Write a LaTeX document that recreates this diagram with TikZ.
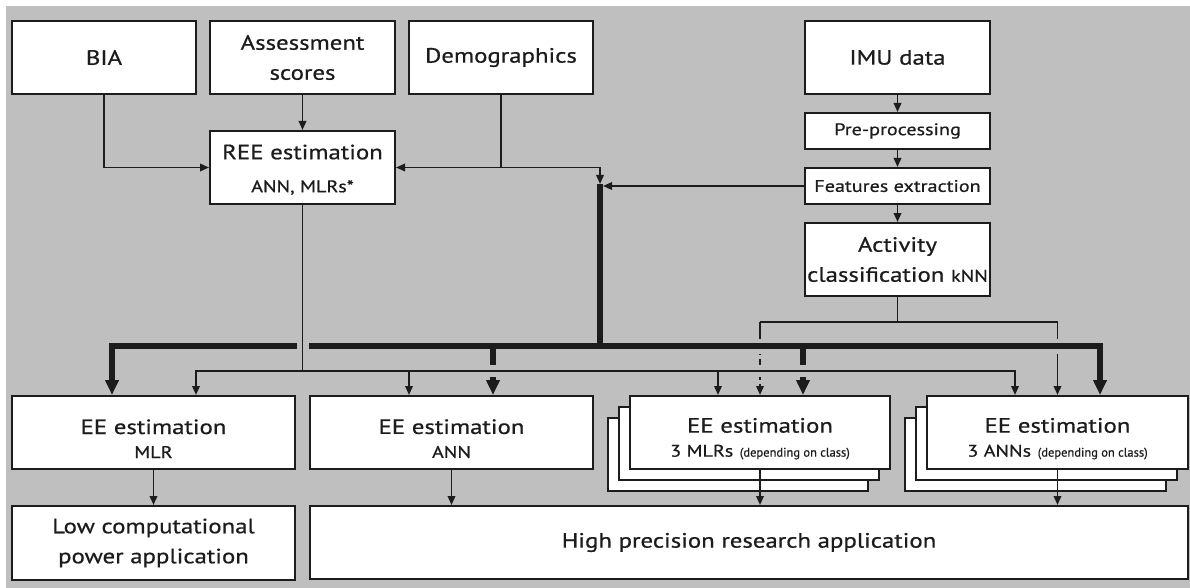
\documentclass[tikz,border=0pt]{standalone}
\usepackage{fontspec}
\setmainfont{PT Sans}[FakeStretch=1.2, FakeBold=0.6]
\newfontfamily\plainfont{PT Sans}[FakeBold=0.6]
\usetikzlibrary{arrows.meta,calc}
\pgfdeclarelayer{back}
\pgfdeclarelayer{lines}
\pgfsetlayers{back,lines,main}
\definecolor{bgc}{RGB}{191,191,191}
\definecolor{ink}{RGB}{28,28,28}
\newcommand\fbig{\fontsize{20.7}{30}\selectfont}
\newcommand\fmid{\fontsize{16.8}{22}\selectfont}
\newcommand\fsml{\plainfont\fontsize{12.5}{16}\selectfont}
\newcommand\topstrut{\rule{0pt}{27pt}}
\tikzset{
  box/.style={draw=ink, line width=2pt, fill=white, inner sep=0pt, align=center, font=\fbig, text=ink},
  tline/.style={draw=ink, line width=1.8pt},
  thk/.style={draw=ink, line width=5.5pt},
  ta/.style={-{Triangle[length=9pt,width=7.5pt]}},
  ka/.style={-{Triangle[length=15pt,width=13pt]}},
  halo/.style={preaction={draw=bgc, line width=#1}},
}
\begin{document}
\begin{tikzpicture}[x=1pt,y=-1pt]
\useasboundingbox (0,0) rectangle (1190,588);
\begin{pgfonlayer}{back}
  \fill[white] (0,0) rectangle (1190,588);
  \fill[bgc] (5.7,6) rectangle (1190,588);
\end{pgfonlayer}

% top row
\node[box, minimum width=184.5pt, minimum height=73pt] (bia) at (104,57.5) {BIA};
\node[box, minimum width=185pt, minimum height=73pt] (ass) at (302.5,57.5) {Assessment\\scores};
\node[box, minimum width=184pt, minimum height=73pt] (dem) at (501,57.5) {Demographics};
\node[box, minimum width=185pt, minimum height=73pt] (ree) at (302.5,167.5) {\rule{0pt}{19pt}REE estimation\\[3pt]{\fmid ANN, MLRs*}};
\node[box, minimum width=185pt, minimum height=73pt] (imu) at (897.5,57.5) {IMU data};
\node[box, font=\fmid, minimum width=185pt, minimum height=36pt] (pre) at (897.5,131) {Pre-processing};
\node[box, font=\fmid, minimum width=185pt, minimum height=36pt] (fea) at (897.5,186) {Features extraction};
\node[box, minimum width=185pt, minimum height=73pt] (act) at (897.5,259.5) {Activity\\classification {\fmid kNN}};

% estimation row
\node[box, minimum width=283pt, minimum height=73pt] (mlr) at (153.5,432.5) {\topstrut EE estimation\\[-6pt]{\fmid MLR}};
\node[box, minimum width=283pt, minimum height=73pt] (ann) at (451.5,432.5) {\topstrut EE estimation\\[-6pt]{\fmid ANN}};
\node[box, minimum width=260pt, minimum height=73pt] (mlrsc) at (738,454.5) {};
\node[box, minimum width=260pt, minimum height=73pt] (mlrsb) at (749,443.5) {};
\node[box, minimum width=260pt, minimum height=73pt] (mlrs) at (760,432.5) {\topstrut EE estimation\\[-6pt]{\fmid 3 MLRs} {\fsml (depending on class)}};
\node[box, minimum width=261pt, minimum height=73pt] (annsc) at (1035.5,454.5) {};
\node[box, minimum width=261pt, minimum height=73pt] (annsb) at (1046.5,443.5) {};
\node[box, minimum width=261pt, minimum height=73pt] (anns) at (1057.5,432.5) {\topstrut EE estimation\\[-6pt]{\fmid 3 ANNs} {\fsml (depending on class)}};

% application row
\node[box, minimum width=283pt, minimum height=74pt] (low) at (153.5,543) {Low computational\\power application};
\node[box, minimum width=878pt, minimum height=73pt] (high) at (749,542.5) {High precision research application};

\coordinate (demj) at (dem.south |- ree.east);
\coordinate (tvtop) at (600,184);
\coordinate (busy) at (0,346);
\coordinate (kj) at ($(act.south)+(0,25)$);
\coordinate (kL) at (mlrs.north |- kj);
\coordinate (kR) at (anns.north |- kj);
\coordinate (bL) at (112,346);
\coordinate (b2) at (493,346);
\coordinate (b3) at (803,346);
\coordinate (bR) at (1100,346);
\coordinate (tby) at (0,371);
\coordinate (tb) at (ree.south |- tby);
\coordinate (t1) at (196,371);
\coordinate (t2) at (409,371);
\coordinate (t3) at (718,371);
\coordinate (t4) at (1015,371);

\begin{pgfonlayer}{lines}
  % inputs to REE
  \draw[tline, ta] (bia.south) |- (ree.west);
  \draw[tline, ta] (ass.south) -- (ree.north);
  \draw[tline, ta] (demj) -- (ree.east);
  \draw[tline, ta] (dem.south) -- (demj) -| (tvtop);
  % IMU chain
  \draw[tline, ta] (imu.south) -- (pre.north);
  \draw[tline, ta] (pre.south) -- (fea.north);
  \draw[tline, ta] (fea.south) -- (act.north);
  \draw[tline, ta] (fea.west) -- ($(tvtop |- fea.west)+(3,0)$);
  % kNN branches
  \draw[tline] (act.south) -- (kj);
  \draw[tline] (kL) -- (kR);
  \draw[tline] (kL) -- (kL |- busy);
  \draw[tline, ta, dash pattern=on 9pt off 3.5pt] (kL |- busy) -- (mlrs.north);
  \draw[tline, ta] (kR) -- (anns.north);
  % thick bus
  \draw[thk, line cap=rect, halo=15pt] (bL) -- (bR);
  \draw[thk] (tvtop) -- (tvtop |- busy);
  \draw[thk, ka] (bL) -- (bL |- mlr.north);
  \draw[thk, ka] (b2) -- (b2 |- ann.north);
  \draw[thk, ka] (b3) -- (b3 |- mlrs.north);
  \draw[thk, ka] (bR) -- (bR |- anns.north);
  % thin bus from REE
  \draw[tline, line cap=rect, halo=12pt] (ree.south) -- (tb) (t1) -- (t4);
  \draw[tline, ta] (t1) -- (t1 |- mlr.north);
  \draw[tline, ta] (t2) -- (t2 |- ann.north);
  \draw[tline, ta] (t3) -- (t3 |- mlrs.north);
  \draw[tline, ta] (t4) -- (t4 |- anns.north);
\end{pgfonlayer}

% outputs
\draw[tline, ta] (mlr.south) -- (low.north);
\draw[tline, ta] (ann.south) -- (ann.south |- high.north);
\draw[tline, ta] (mlrs.south) -- (mlrs.south |- high.north);
\draw[tline, ta] (anns.south) -- (anns.south |- high.north);
\end{tikzpicture}
\end{document}
